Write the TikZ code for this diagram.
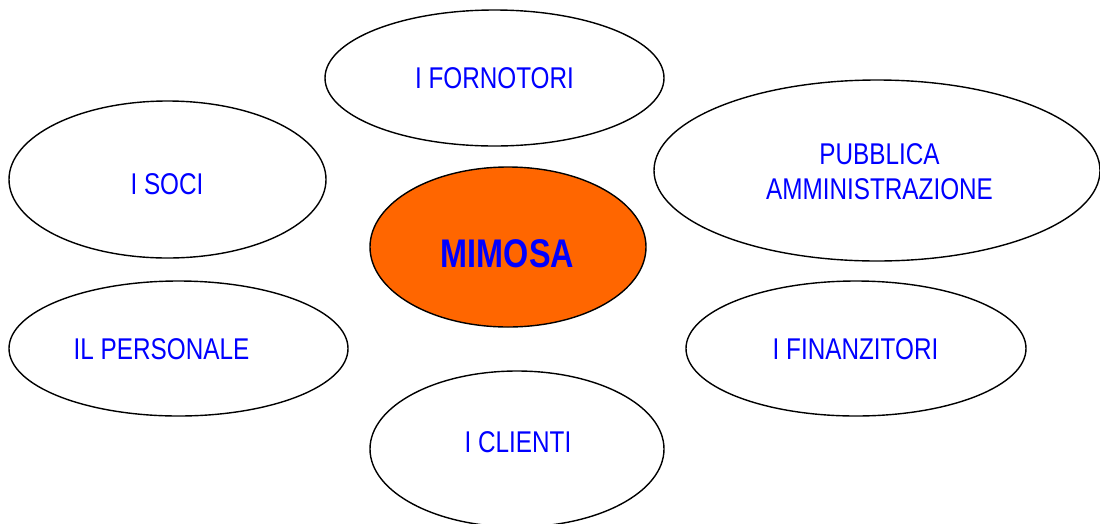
\documentclass[tikz,border=0pt]{standalone}
\usepackage{fontspec}
\setmainfont{Liberation Sans}[FakeStretch=0.81]
\usetikzlibrary{shapes.geometric}
\definecolor{txtblue}{HTML}{0000FF}
\definecolor{mimosa}{HTML}{FF6600}
\tikzset{
  bubble/.style={draw=black, line width=1.4pt, ellipse, inner sep=0pt, fill=white},
  lbl/.style={text=txtblue, inner sep=0pt, font=\fontsize{30}{35}\selectfont, align=center},
}
\begin{document}
\begin{tikzpicture}[x=1pt,y=-1pt]
\useasboundingbox (0,0) rectangle (1100,523);
% ellipses
\node[bubble, minimum width=339pt, minimum height=136pt] (forn) at (494.5,78) {};
\node[bubble, minimum width=317pt, minimum height=157pt] (soci) at (167.5,179.5) {};
\node[bubble, minimum width=446pt, minimum height=181pt] (pa) at (877,170.5) {};
\node[bubble, fill=mimosa, minimum width=276pt, minimum height=160pt] (mim) at (508,247) {};
\node[bubble, minimum width=339pt, minimum height=135pt] (pers) at (178.5,348.5) {};
\node[bubble, minimum width=340pt, minimum height=135pt] (fin) at (856,348.5) {};
\node[bubble, minimum width=294pt, minimum height=156pt] (cli) at (517,449) {};
% labels
\node[lbl] (tforn) at (494.5,78) {I FORNOTORI};
\node[lbl] (tsoci) at (167,184) {I SOCI};
\node[lbl] (tpa) at (879.5,171.5) {PUBBLICA\\AMMINISTRAZIONE};
\node[lbl, font=\fontsize{40}{44}\bfseries\selectfont] (tmim) at (507.5,253.5) {MIMOSA};
\node[lbl] (tpers) at (161.5,349.5) {IL PERSONALE};
\node[lbl] (tfin) at (855.5,349) {I FINANZITORI};
\node[lbl] (tcli) at (518,442) {I CLIENTI};
\end{tikzpicture}
\end{document}
